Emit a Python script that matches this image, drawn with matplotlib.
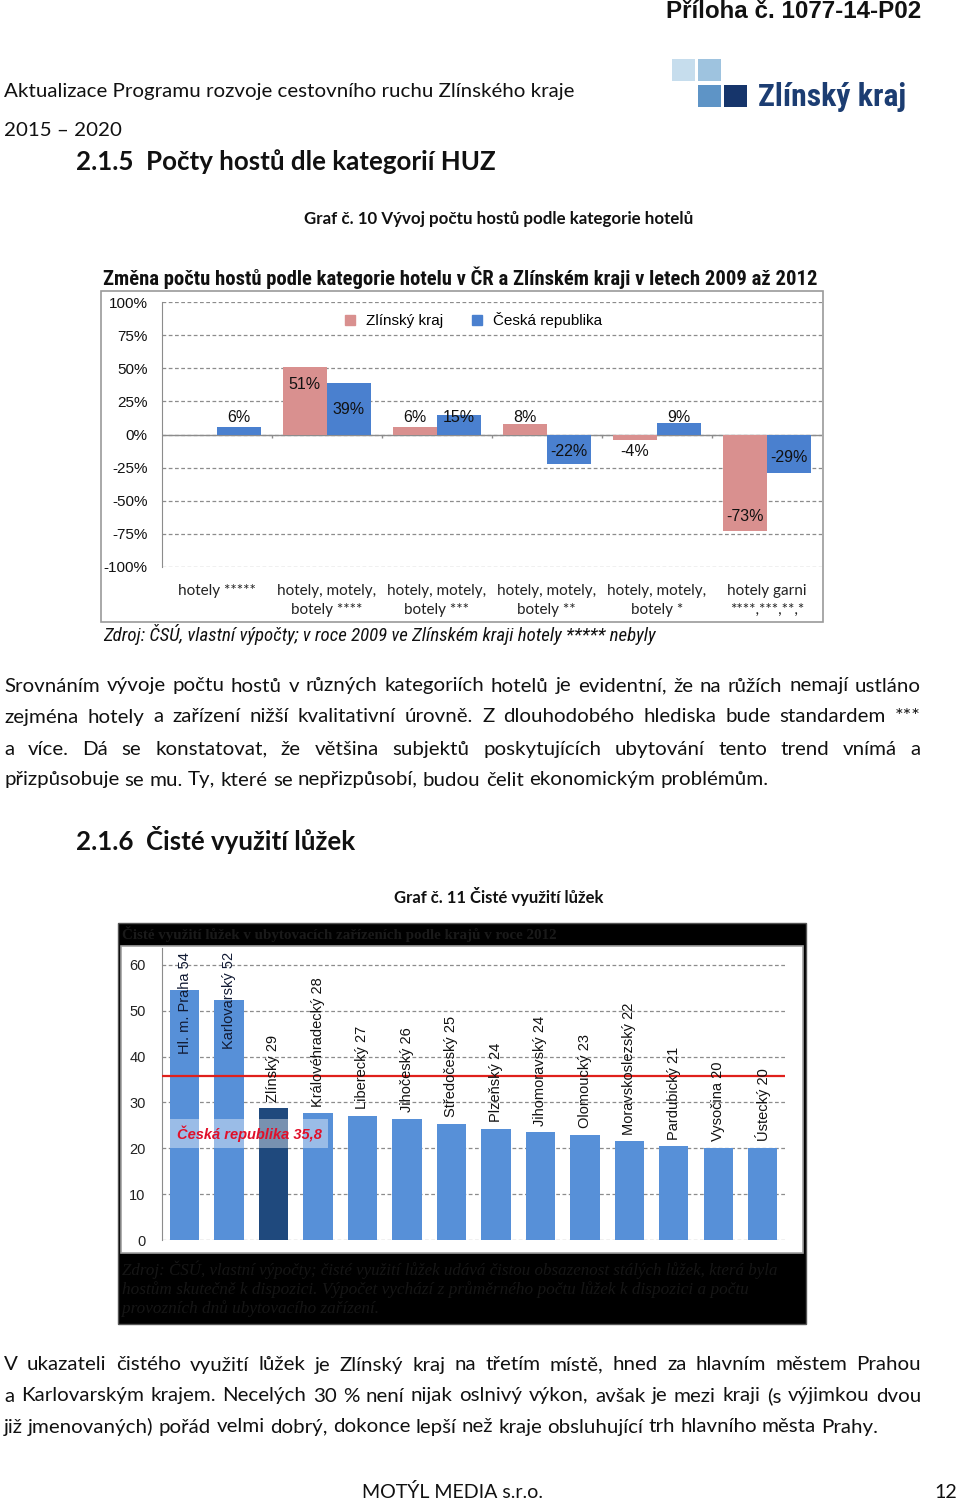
import matplotlib
matplotlib.use('Agg')
import matplotlib.pyplot as plt
from matplotlib.patches import Rectangle
from matplotlib.lines import Line2D
import logging

logging.getLogger('matplotlib.font_manager').setLevel(logging.ERROR)

# chart 1 data - change of guests by hotel category 2009-2012 (%)
categories1 = ['hotely *****', 'hotely, motely,\nbotely ****', 'hotely, motely,\nbotely ***',
               'hotely, motely,\nbotely **', 'hotely, motely,\nbotely *', 'hotely garni\n****,***,**,*']
zlin_change = [None, 51, 6, 8, -4, -73]
cr_change = [6, 39, 15, -22, 9, -29]
y_ticks1 = [-100, -75, -50, -25, 0, 25, 50, 75, 100]

# chart 2 data - net bed occupancy by region
regions = ['Hl. m. Praha 54', 'Karlovarský 52', 'Zlínský 29', 'Královéhradecký 28', 'Liberecký 27',
           'Jihočeský 26', 'Středočeský 25', 'Plzeňský 24', 'Jihomoravský 24', 'Olomoucký 23',
           'Moravskoslezský 22', 'Pardubický 21', 'Vysočina 20', 'Ústecký 20']
occupancy = [54.5, 52.3, 28.7, 27.6, 27.1, 26.5, 25.4, 24.3, 23.5, 23.0, 21.5, 20.5, 20.1, 20.1]
cr_avg = 35.8
y_ticks2 = [0, 10, 20, 30, 40, 50, 60]

PINK = '#d9908f'
BLUE = '#4a80cf'
BLUE2 = '#5790d8'
NAVY = '#1f497d'
BODY = 'Lato'
NARROW = ['Liberation Sans Narrow', 'Arial Narrow', 'Roboto Condensed', 'Open Sans Condensed',
          'Liberation Sans']
ARIAL = 'Liberation Sans'

W, H = 960, 1500
fig = plt.figure(figsize=(9.6, 15), dpi=100)
fig.patch.set_facecolor('white')
R = fig.canvas.get_renderer()


def X(px):
    return px / W


def Y(py):
    return 1 - py / H


def width(t):
    return t.get_window_extent(R).width


def fit(x0, x1, y, s, size=10, **kw):
    # place text and scale it so it spans x0..x1
    t = fig.text(X(x0), Y(y), s, fontsize=size, va='center', **kw)
    t.set_fontsize(size * (x1 - x0) / width(t))
    return t


def justify(y, s, size, x0=4, x1=921, full=True):
    words = s.split()
    objs = [fig.text(0, Y(y), w, fontsize=size, family=BODY, va='center', color='#111111') for w in words]
    ws = [width(o) for o in objs]
    a = fig.text(0, 0, 'x x', fontsize=size, family=BODY)
    b = fig.text(0, 0, 'xx', fontsize=size, family=BODY)
    space = width(a) - width(b)
    a.remove(); b.remove()
    gap = (x1 - x0 - sum(ws)) / (len(words) - 1) if full else space
    x = x0
    for o, w in zip(objs, ws):
        o.set_x(X(x))
        x += w + gap


def box(x0, y0, x1, y1, **kw):
    fig.patches.append(Rectangle((X(x0), Y(y1)), (x1 - x0) / W, (y1 - y0) / H,
                                 transform=fig.transFigure, **kw))


# ---- page header ----
fit(666, 921, 12, 'Příloha č. 1077-14-P02', family=ARIAL, weight='bold', color='#111111')
hdr = fit(4, 573, 91, 'Aktualizace Programu rozvoje cestovního ruchu Zlínského kraje',
          family=BODY, color='#111111')
body_size = hdr.get_fontsize()
fig.text(X(4), Y(130), '2015 – 2020', fontsize=body_size, family=BODY, va='center', color='#111111')

# logo
for (x0, y0, c) in [(672, 59, '#c6dded'), (698, 59, '#9ec3df'), (698, 85, '#5e94c6'), (724, 85, '#16356b')]:
    box(x0, y0, x0 + 23, y0 + 22, facecolor=c, edgecolor='none')
fit(758, 906, 97, 'Zlínský kraj', family=NARROW, weight='bold', color='#1c3d72')

head_a = fit(76, 495, 162, '2.1.5  Počty hostů dle kategorií HUZ', family=BODY, weight='bold', color='#111111')
fit(304, 693, 219, 'Graf č. 10 Vývoj počtu hostů podle kategorie hotelů', family=BODY, weight='bold',
    color='#111111')

# ---- chart 1 ----
box(101, 291, 823, 622, facecolor='none', edgecolor='#9a9a9a', lw=1.2)
fit(103, 818, 278, 'Změna počtu hostů podle kategorie hotelu v ČR a Zlínském kraji v letech 2009 až 2012',
    family=NARROW, weight='bold', color='#111111')

ax1 = fig.add_axes([X(161.5), Y(567), (822 - 161.5) / W, (567 - 302) / H])
ax1.set_xlim(-0.5, 5.5)
ax1.set_ylim(-100, 100)
bw = 0.4
xs = range(len(categories1))
for i in xs:
    z = zlin_change[i]
    c = cr_change[i]
    if z is not None:
        ax1.bar(i - bw / 2, z, bw, color=PINK, zorder=3)
        ly = max(z - 13, 12.5) if z > 0 else min(z + 11, -13)
        ax1.text(i - bw / 2, ly, f'{z}%', ha='center', va='center', family=ARIAL, fontsize=11.5,
                 color='#111111', zorder=4)
    ax1.bar(i + bw / 2, c, bw, color=BLUE, zorder=3)
    ly = max(c - 20, 12.5) if c > 0 else min(c + 12, -13)
    ax1.text(i + bw / 2, ly, f'{c}%', ha='center', va='center', family=ARIAL, fontsize=11.5,
             color='#111111', zorder=4)

ax1.set_yticks(y_ticks1, [f'{v}%' for v in y_ticks1], family=ARIAL, fontsize=11)
ax1.set_xticks(list(xs), categories1, family=BODY, fontsize=11, linespacing=1.45)
ax1.tick_params(axis='x', length=0, pad=12, colors='#222222')
ax1.tick_params(axis='y', length=0, pad=10, colors='#111111')
for s in ['top', 'right', 'bottom']:
    ax1.spines[s].set_visible(False)
ax1.spines['left'].set_color('#8c8c8c')
ax1.grid(axis='y', ls=(0, (3, 2)), color='#8c8c8c', lw=0.9, zorder=0)
ax1.axhline(0, color='#8c8c8c', lw=1, zorder=2)
ax1.vlines([i + 0.5 for i in range(5)], -3, 0, color='#8c8c8c', lw=1)
handles = [Line2D([], [], marker='s', ls='none', color=PINK, markersize=7),
           Line2D([], [], marker='s', ls='none', color=BLUE, markersize=7)]
ax1.legend(handles, ['Zlínský kraj', 'Česká republika'], loc='center', bbox_to_anchor=(0.465, 0.932),
           ncol=2, frameon=False, prop={'family': ARIAL, 'size': 11}, handletextpad=0.05,
           columnspacing=1.2, borderpad=0.2)
fit(103, 652, 634, 'Zdroj: ČSÚ, vlastní výpočty; v roce 2009 ve Zlínském kraji hotely ***** nebyly',
    family=NARROW, style='italic', color='#111111')

# ---- paragraph 1 ----
justify(686, 'Srovnáním vývoje počtu hostů v různých kategoriích hotelů je evidentní, že na růžích nemají ustláno',
        body_size)
justify(717, 'zejména hotely a zařízení nižší kvalitativní úrovně. Z dlouhodobého hlediska bude standardem ***',
        body_size)
justify(749, 'a více. Dá se konstatovat, že většina subjektů poskytujících ubytování tento trend vnímá a',
        body_size)
justify(780, 'přizpůsobuje se mu.  Ty, které se nepřizpůsobí, budou čelit ekonomickým problémům.',
        body_size, full=False)

fig.text(X(76), Y(840), '2.1.6  Čisté využití lůžek', fontsize=head_a.get_fontsize(), family=BODY,
         weight='bold', va='center', color='#111111')
fit(394, 604, 897, 'Graf č. 11 Čisté využití lůžek', family=BODY, weight='bold', color='#111111')

# ---- chart 2 ----
box(118, 923, 806, 1324, facecolor='black', edgecolor='#555555', lw=1, zorder=-2)
box(121, 946, 803, 1253, facecolor='white', edgecolor='#a0a0a0', lw=1.2, zorder=-1)
fit(122, 560, 934, 'Čisté využití lůžek v ubytovacích zařízeních podle krajů v roce 2012',
    family='Liberation Serif', weight='bold', color='#1a1a1a')
src = ['Zdroj: ČSÚ, vlastní výpočty; čisté využití lůžek udává čistou obsazenost stálých lůžek, která byla',
       'hostům skutečně k dispozici. Výpočet vychází z průměrného počtu lůžek k dispozici a počtu',
       'provozních dnů ubytovacího zařízení.']
for k, (line, x1) in enumerate(zip(src, [776, 752, 380])):
    fit(122, x1, 1270 + k * 19.5, line, family='Liberation Serif', style='italic', color='#161616')

ax2 = fig.add_axes([X(162.3), Y(1240), (785 - 162.3) / W, (1240 - 948) / H])
ax2.set_xlim(-0.5, len(regions) - 0.5)
ax2.set_ylim(0, 63.7)
cols = [NAVY if r.startswith('Zlínský') else BLUE2 for r in regions]
ax2.bar(range(len(regions)), occupancy, 0.66, color=cols, zorder=3)
for i, (r, v) in enumerate(zip(regions, occupancy)):
    if v > 45:
        ax2.text(i, 62.8, r, rotation=90, ha='center', va='top', family=ARIAL,
                 fontsize=10.5, color='#111a33', zorder=5)
    else:
        ax2.text(i, v + 1.4, r, rotation=90, ha='center', va='bottom', family=ARIAL,
                 fontsize=10.5, color='#111111', zorder=5)
ax2.axhline(cr_avg, color='#e0201b', lw=1.6, zorder=4)
ax2.text(-0.17, 23.2, 'Česká republika 35,8', ha='left', va='center', family=ARIAL,
         weight='bold', style='italic', fontsize=10.5, color='#e0102a', zorder=6,
         bbox=dict(boxstyle='square,pad=0.45', facecolor='white', alpha=0.4, edgecolor='none'))
ax2.set_yticks(y_ticks2, [str(v) for v in y_ticks2], family=ARIAL, fontsize=10.5)
ax2.set_xticks([])
ax2.tick_params(axis='y', length=0, pad=12, colors='#222222')
for s in ['top', 'right', 'bottom']:
    ax2.spines[s].set_visible(False)
ax2.spines['left'].set_color('#8c8c8c')
ax2.grid(axis='y', ls=(0, (3, 2)), color='#8c8c8c', lw=0.9, zorder=0)
ax2.set_facecolor('none')

# ---- paragraph 2 ----
justify(1365, 'V ukazateli čistého využití lůžek je Zlínský kraj na třetím místě, hned za hlavním městem Prahou',
        body_size)
justify(1396, 'a Karlovarským krajem. Necelých 30 % není nijak oslnivý výkon, avšak je mezi kraji (s výjimkou dvou',
        body_size)
justify(1427, 'již jmenovaných) pořád velmi dobrý, dokonce lepší než kraje obsluhující trh hlavního města Prahy.',
        body_size, full=False)

# footer
fig.text(X(453), Y(1492), 'MOTÝL MEDIA s.r.o.', ha='center', va='center', fontsize=body_size * 0.96,
         family=BODY, color='#111111')
fig.text(X(957), Y(1492), '12', ha='right', va='center', fontsize=body_size * 0.96, family=BODY,
         color='#111111')

fig.savefig('out.png', dpi=100)
